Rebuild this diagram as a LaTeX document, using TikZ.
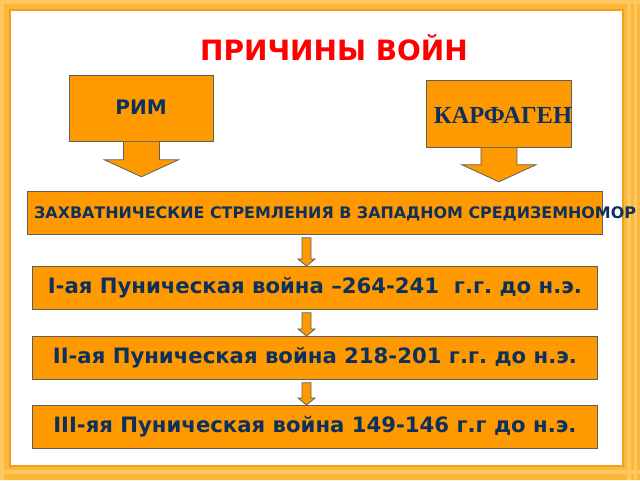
\documentclass[tikz,border=0pt]{standalone}
\usepackage{fontspec}
\setmainfont{DejaVu Sans}
\newfontfamily\serifbold{Liberation Serif}
\usetikzlibrary{calc}
\frenchspacing
\definecolor{boxorange}{RGB}{255,153,0}
\definecolor{boxedge}{RGB}{95,95,95}
\definecolor{txtblue}{RGB}{14,48,92}
\definecolor{framelight}{RGB}{255,200,95}
\definecolor{framemid}{RGB}{253,182,60}
\definecolor{framedark}{RGB}{240,160,25}
\definecolor{titlered}{RGB}{255,0,0}
\tikzset{
  box/.style={draw=boxedge, line width=0.8pt, fill=boxorange, inner sep=0pt, anchor=north west},
  txt/.style={text=txtblue, font=\bfseries, inner sep=0pt},
  arr/.style={draw=boxedge, line width=0.8pt, fill=boxorange, line join=miter},
  wartxt/.style={font=\bfseries\fontsize{21.2}{24}\selectfont, text=txtblue},
}
\begin{document}
\begin{tikzpicture}[x=1pt,y=-1pt]
\useasboundingbox (0,0) rectangle (640,480);
\fill[white] (0,0) rectangle (640,480);
% frame
\fill[framemid, even odd rule] (0,0) rectangle (640,480) (10,10) rectangle (623,466);
\fill[framelight] (0,0) rectangle (640,4);
\fill[framelight] (0,0) rectangle (4,480);
\fill[framelight] (0,470) rectangle (640,474);
\fill[framelight] (627,0) rectangle (631,480);
\fill[framelight] (634,0) rectangle (637,480);
\draw[framedark, line width=1.5pt] (10,10) rectangle (623,466);
% title
\node[text=titlered, font=\bfseries\fontsize{28}{32}\selectfont, inner sep=0pt] (title) at (334,48) {ПРИЧИНЫ ВОЙН};
% Rome callout
\node[box, minimum width=144, minimum height=66] (rim) at (69,75) {};
\node[txt, font=\bfseries\fontsize{20}{24}\selectfont] (rimt) at (141,107) {РИМ};
\draw[arr] let \p1=(rim.south) in
  (\x1-18pt,\y1) -- (\x1-18pt,\y1-18pt) -- (\x1-37pt,\y1-18pt) -- (\x1,\y1-35pt)
  -- (\x1+37pt,\y1-18pt) -- (\x1+18pt,\y1-18pt) -- (\x1+18pt,\y1);
% Carthage callout
\node[box, minimum width=145, minimum height=67] (kar) at (426,80) {};
\node[txt, font=\serifbold\bfseries\fontsize{24.5}{28}\selectfont] (kart) at (503,115) {КАРФАГЕН};
\draw[arr] let \p1=(kar.south) in
  (\x1-18pt,\y1) -- (\x1-18pt,\y1-17pt) -- (\x1-37pt,\y1-17pt) -- (\x1,\y1-34pt)
  -- (\x1+37pt,\y1-17pt) -- (\x1+18pt,\y1-17pt) -- (\x1+18pt,\y1);
% main boxes
\node[box, minimum width=575, minimum height=43] (b1) at (27,191) {};
\node[box, minimum width=565, minimum height=43, wartxt] (b2) at (32,266) {I-ая Пуническая война –264-241\ \ г.г. до н.э.};
\node[box, minimum width=565, minimum height=43, wartxt] (b3) at (32,336) {II-ая Пуническая война 218-201 г.г. до н.э.};
\node[box, minimum width=565, minimum height=43, wartxt] (b4) at (32,405) {III-яя Пуническая война 149-146 г.г до н.э.};
\node[txt, anchor=west, font=\bfseries\fontsize{15.9}{18}\selectfont] (b1t) at (34,213.5) {ЗАХВАТНИЧЕСКИЕ СТРЕМЛЕНИЯ В ЗАПАДНОМ СРЕДИЗЕМНОМОР};
% small arrows
\coordinate (ax) at (306.5,0);
\foreach \u/\v in {b1/b2,b2/b3,b3/b4}{
  \draw[arr] let \p1=(\u.south -| ax), \p2=(\v.north -| ax) in
    (\x1-4.5pt,\y1-3pt) -- (\x1-4.5pt,\y2+7pt) -- (\x1-8.5pt,\y2+7pt) -- (\x1,\y2)
    -- (\x1+8.5pt,\y2+7pt) -- (\x1+4.5pt,\y2+7pt) -- (\x1+4.5pt,\y1-3pt) -- cycle;
}
\end{tikzpicture}
\end{document}
